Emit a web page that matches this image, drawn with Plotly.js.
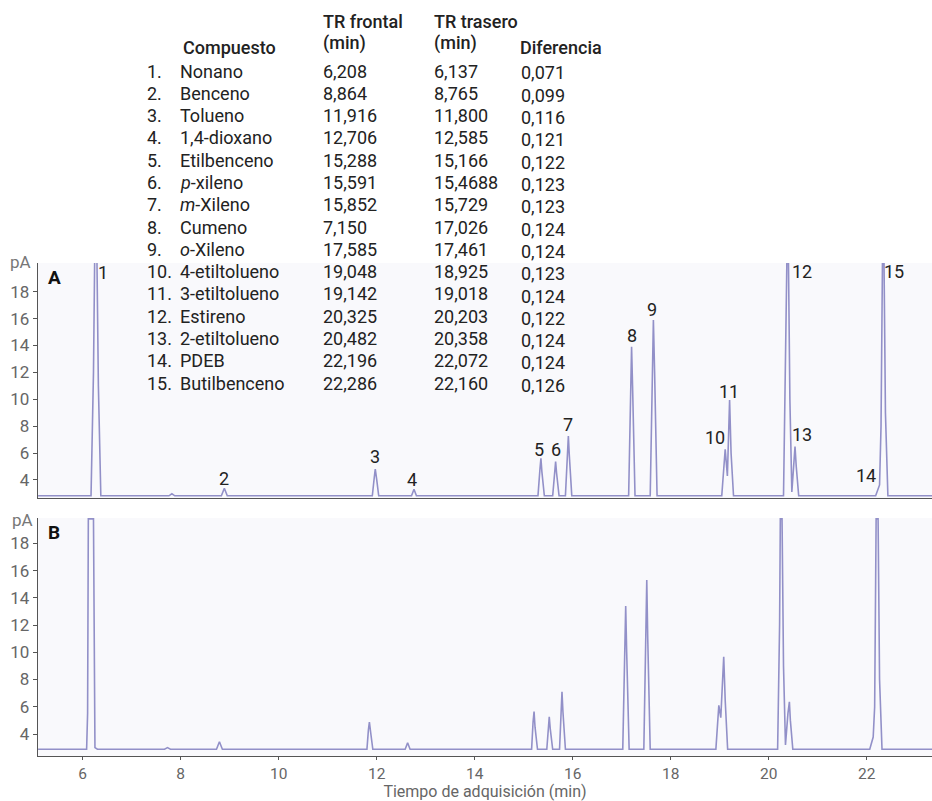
<!DOCTYPE html>
<html>
<head>
<meta charset="utf-8">
<script src="https://cdn.plot.ly/plotly-3.0.1.min.js"></script>
<style>html,body{margin:0;padding:0;background:#fff;}#chart{width:932px;height:801px;}</style>
</head>
<body>
<div id="chart"></div>
<script>
// ---------- Table data ----------
const numbers = ["1.","2.","3.","4.","5.","6.","7.","8.","9.","10.","11.","12.","13.","14.","15."];
const compounds = ["Nonano","Benceno","Tolueno","1,4-dioxano","Etilbenceno","<i>p</i>-xileno","<i>m</i>-Xileno","Cumeno","<i>o</i>-Xileno","4-etiltolueno","3-etiltolueno","Estireno","2-etiltolueno","PDEB","Butilbenceno"];
const trFrontal = ["6,208","8,864","11,916","12,706","15,288","15,591","15,852","7,150","17,585","19,048","19,142","20,325","20,482","22,196","22,286"];
const trTrasero = ["6,137","8,765","11,800","12,585","15,166","15,4688","15,729","17,026","17,461","18,925","19,018","20,203","20,358","22,072","22,160"];
const diferencia = ["0,071","0,099","0,116","0,121","0,122","0,123","0,123","0,124","0,124","0,123","0,124","0,122","0,124","0,124","0,126"];

// ---------- Chromatogram A (front) ----------
const timeA = [5.09,
  6.17,6.22,6.245,6.29,6.32,6.37,
  7.76,7.82,7.88,
  8.83,8.89,8.95,
  11.91,11.95,11.97,12.00,12.04,
  12.71,12.76,12.81,
  15.29,15.33,15.35,15.37,15.42,
  15.59,15.63,15.65,15.67,15.72,
  15.85,15.89,15.91,15.93,15.98,
  17.14,17.18,17.20,17.22,17.27,
  17.58,17.62,17.645,17.67,17.72,
  19.04,19.09,19.11,19.155,19.20,19.23,19.28,
  20.30,20.345,20.37,20.40,20.43,20.47,20.51,20.535,20.56,20.61,
  22.18,22.22,22.26,22.29,22.32,22.35,22.38,22.43,
  23.33];
const signalA = [2.82,
  2.82,12,20.6,20.6,11,2.82,
  2.82,2.97,2.82,
  2.82,3.38,2.82,
  2.82,4.2,4.8,4.0,2.82,
  2.82,3.31,2.82,
  2.82,4.8,5.6,4.6,2.82,
  2.82,4.6,5.36,4.5,2.82,
  2.82,6.0,7.27,5.8,2.82,
  2.82,11,13.9,11,2.82,
  2.82,12,15.9,12,2.82,
  2.82,5.5,6.28,4.3,9.95,6.0,2.82,
  2.82,14,20.6,20.6,10,3.1,5.5,6.48,5.0,2.82,
  2.82,3.3,3.63,8,20.6,20.6,9,2.82,
  2.82];

// ---------- Chromatogram B (back) ----------
const timeB = [5.09,
  6.08,6.10,6.115,6.22,6.25,6.30,
  7.67,7.73,7.79,
  8.73,8.79,8.85,
  11.80,11.83,11.85,11.88,11.92,
  12.58,12.63,12.68,
  15.16,15.19,15.21,15.23,15.28,
  15.47,15.50,15.52,15.54,15.59,
  15.73,15.76,15.78,15.80,15.85,
  17.02,17.06,17.08,17.10,17.15,
  17.45,17.49,17.51,17.53,17.58,
  18.92,18.96,18.98,19.02,19.08,19.11,19.16,
  20.18,20.22,20.235,20.27,20.30,20.34,20.39,20.42,20.44,20.49,
  22.06,22.10,22.13,22.16,22.19,22.23,22.26,22.31,
  23.33];
const signalB = [2.88,
  2.88,5.5,19.8,19.8,3.0,2.88,
  2.88,3.0,2.88,
  2.88,3.43,2.88,
  2.88,4.3,4.88,4.0,2.88,
  2.88,3.36,2.88,
  2.88,4.9,5.64,4.5,2.88,
  2.88,4.6,5.27,4.4,2.88,
  2.88,6.0,7.1,5.6,2.88,
  2.88,10.5,13.4,10.0,2.88,
  2.88,10.5,15.3,11,2.88,
  2.88,5.7,6.1,5.2,9.67,6.5,2.88,
  2.88,12,19.8,19.8,9,3.2,5.5,6.37,5.0,2.88,
  2.88,3.4,3.78,6,19.8,19.8,8,2.88,
  2.88];

// ---------- Axis ticks ----------
const xTicks = [6,8,10,12,14,16,18,20,22];
const yTicks = [4,6,8,10,12,14,16,18];
const peakLabels = ["1","2","3","4","5","6","7","8","9","10","11","12","13","14","15"];

// ---------- Layout helpers (pixel -> paper) ----------
const W = 932, H = 801, ML = 38, MB = 45, PW = W - ML, PH = H - MB;
const px = x => (x - ML) / PW;
const py = y => (PH - y) / PH;
const FONT = "Roboto, 'Noto Sans', sans-serif";

const lineColor = '#9290c8';
const traces = [
  {x: timeA, y: signalA, xaxis: 'x', yaxis: 'y', type: 'scatter', mode: 'lines',
   line: {color: lineColor, width: 1.6}, hoverinfo: 'skip', showlegend: false},
  {x: timeB, y: signalB, xaxis: 'x2', yaxis: 'y2', type: 'scatter', mode: 'lines',
   line: {color: lineColor, width: 1.6}, hoverinfo: 'skip', showlegend: false}
];

const ann = [];
function txt(text, x, y, opts) {
  ann.push(Object.assign({text: text, x: px(x), y: py(y), xref: 'paper', yref: 'paper',
    showarrow: false, xanchor: 'left', yanchor: 'middle',
    font: {family: FONT, size: 18, color: '#222'}}, opts || {}));
}
// table header
const hdrFont = {family: FONT, size: 18, color: '#222', weight: 500};
txt('Compuesto', 181, 47, {font: hdrFont});
txt('TR frontal', 321, 22, {font: hdrFont});
txt('(min)', 321, 43, {font: hdrFont});
txt('TR trasero', 432, 22, {font: hdrFont});
txt('(min)', 432, 43, {font: hdrFont});
txt('Diferencia', 518, 47, {font: hdrFont});
// table rows
for (let i = 0; i < compounds.length; i++) {
  const y = 71 + i * 22.3;
  txt(numbers[i], 145, y);
  txt(compounds[i], 178, y);
  txt(trFrontal[i], 321, y);
  txt(trTrasero[i], 432, y);
  txt(diferencia[i], 519, y + 2);
}
// peak labels (pixel centers)
const labelPos = [[103,272],[224,478],[375,457],[412,479],[539,449],[556,449],[568,424],
  [632,335],[652,309],[715,438],[729,391],[802,271],[802,435],[866,475],[894,271]];
for (let i = 0; i < peakLabels.length; i++) {
  txt(peakLabels[i], labelPos[i][0], labelPos[i][1], {xanchor: 'center'});
}
// panel letters
txt('<b>A</b>', 46, 277, {font: {family: FONT, size: 19, color: '#111'}});
txt('<b>B</b>', 46, 532, {font: {family: FONT, size: 19, color: '#111'}});
// unit labels
txt('pA', 33, 262, {xanchor: 'right', font: {family: FONT, size: 17, color: '#777'}});
txt('pA', 35, 520, {xanchor: 'right', font: {family: FONT, size: 17, color: '#777'}});

const axCommon = {showgrid: false, zeroline: false, showline: true, linecolor: '#555', linewidth: 1.2,
  tickcolor: '#555', ticklen: 4, tickwidth: 1};
const layout = {
  width: W, height: H,
  margin: {l: ML, r: 0, t: 0, b: MB},
  paper_bgcolor: '#ffffff', plot_bgcolor: '#f9f9fc',
  font: {family: FONT},
  showlegend: false,
  xaxis: Object.assign({}, axCommon, {domain: [0, 1], anchor: 'y', range: [5.088, 23.33],
    showticklabels: false, ticks: ''}),
  yaxis: Object.assign({}, axCommon, {domain: [0.3413, 0.6521], anchor: 'x', range: [2.66, 20.13],
    tickvals: yTicks, ticktext: yTicks.map(String), ticks: 'outside',
    tickfont: {family: FONT, size: 17, color: '#666'}}),
  xaxis2: Object.assign({}, axCommon, {domain: [0, 1], anchor: 'y2', range: [5.088, 23.33],
    tickvals: xTicks, ticktext: xTicks.map(String), ticks: 'outside', ticklen: 3,
    tickfont: {family: FONT, size: 15.5, color: '#666'},
    title: {text: 'Tiempo de adquisición (min)', font: {family: FONT, size: 16, color: '#666'}, standoff: 5}}),
  yaxis2: Object.assign({}, axCommon, {domain: [0, 0.3148], anchor: 'x2', range: [2.385, 19.86],
    tickvals: yTicks, ticktext: yTicks.map(String), ticks: 'outside',
    tickfont: {family: FONT, size: 17, color: '#666'}}),
  annotations: ann
};
Plotly.newPlot('chart', traces, layout, {displayModeBar: false, staticPlot: true});
</script>
</body>
</html>
